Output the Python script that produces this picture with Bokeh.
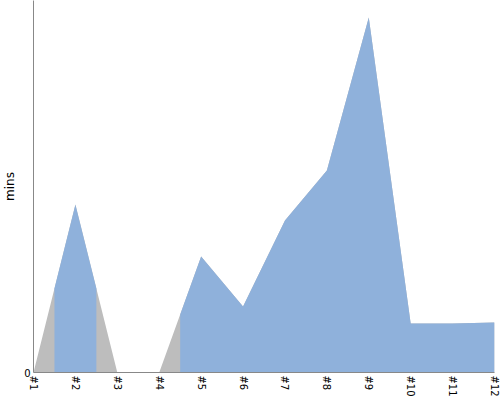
import numpy as np
from bokeh.plotting import figure
from bokeh.models import FixedTicker, Range1d
from bokeh.embed import file_html
from bokeh.resources import INLINE

categories = ["#1", "#2", "#3", "#4", "#5", "#6", "#7", "#8", "#9", "#10", "#11", "#12"]
mins = [0.0, 16.8, 0.0, 0.0, 11.6, 6.6, 15.2, 20.2, 35.5, 4.9, 4.9, 5.0]
highlight = [False, True, False, False, True, True, True, True, True, True, True, True]

x = np.arange(1, len(categories) + 1, dtype=float)
y = np.array(mins)

p = figure(frame_width=461, frame_height=372, output_backend="svg", toolbar_location=None,
           x_range=Range1d(1, 12), y_range=Range1d(0, 37.2),
           min_border_left=33, min_border_right=6, min_border_top=0, min_border_bottom=28)
p.outline_line_color = None
p.grid.visible = False
p.background_fill_color = "white"

# gray full area
p.varea(x=x, y1=0, y2=y, fill_color="#bdbdbd", fill_alpha=1.0)

# blue highlighted regions: each highlighted category covers +-0.5 around it
runs = []
i = 0
n = len(categories)
while i < n:
    if highlight[i]:
        j = i
        while j + 1 < n and highlight[j + 1]:
            j += 1
        runs.append((i, j))
        i = j + 1
    else:
        i += 1
for a, b in runs:
    x0 = max(x[a] - 0.5, x[0])
    x1 = min(x[b] + 0.5, x[-1])
    inner = x[(x > x0) & (x < x1)]
    xs = np.concatenate([[x0], inner, [x1]])
    ys = np.interp(xs, x, y)
    p.varea(x=xs, y1=0, y2=ys, fill_color="#8fb1db", fill_alpha=1.0)

p.xaxis.ticker = FixedTicker(ticks=list(x))
p.xaxis.major_label_overrides = {float(v): c for v, c in zip(x, categories)}
p.xaxis.major_label_overrides.update({int(v): c for v, c in zip(x, categories)})
p.xaxis.major_label_orientation = "vertical"
p.yaxis.ticker = FixedTicker(ticks=[0])
p.yaxis.axis_label = "mins"

for ax in (p.xaxis, p.yaxis):
    ax.axis_line_color = "#888888"
    ax.major_tick_line_color = None
    ax.minor_tick_line_color = None
    ax.major_tick_out = 0
    ax.major_tick_in = 0
    ax.major_label_text_font = "DejaVu Sans"
    ax.major_label_text_font_size = "10px"
    ax.major_label_text_color = "black"
    ax.major_label_standoff = 3
p.yaxis.axis_label_text_font = "DejaVu Sans"
p.yaxis.axis_label_text_font_size = "12px"
p.yaxis.axis_label_text_font_style = "normal"
p.yaxis.axis_label_text_color = "black"
p.yaxis.axis_label_standoff = 4

open("out.html", "w").write(file_html(p, INLINE))
